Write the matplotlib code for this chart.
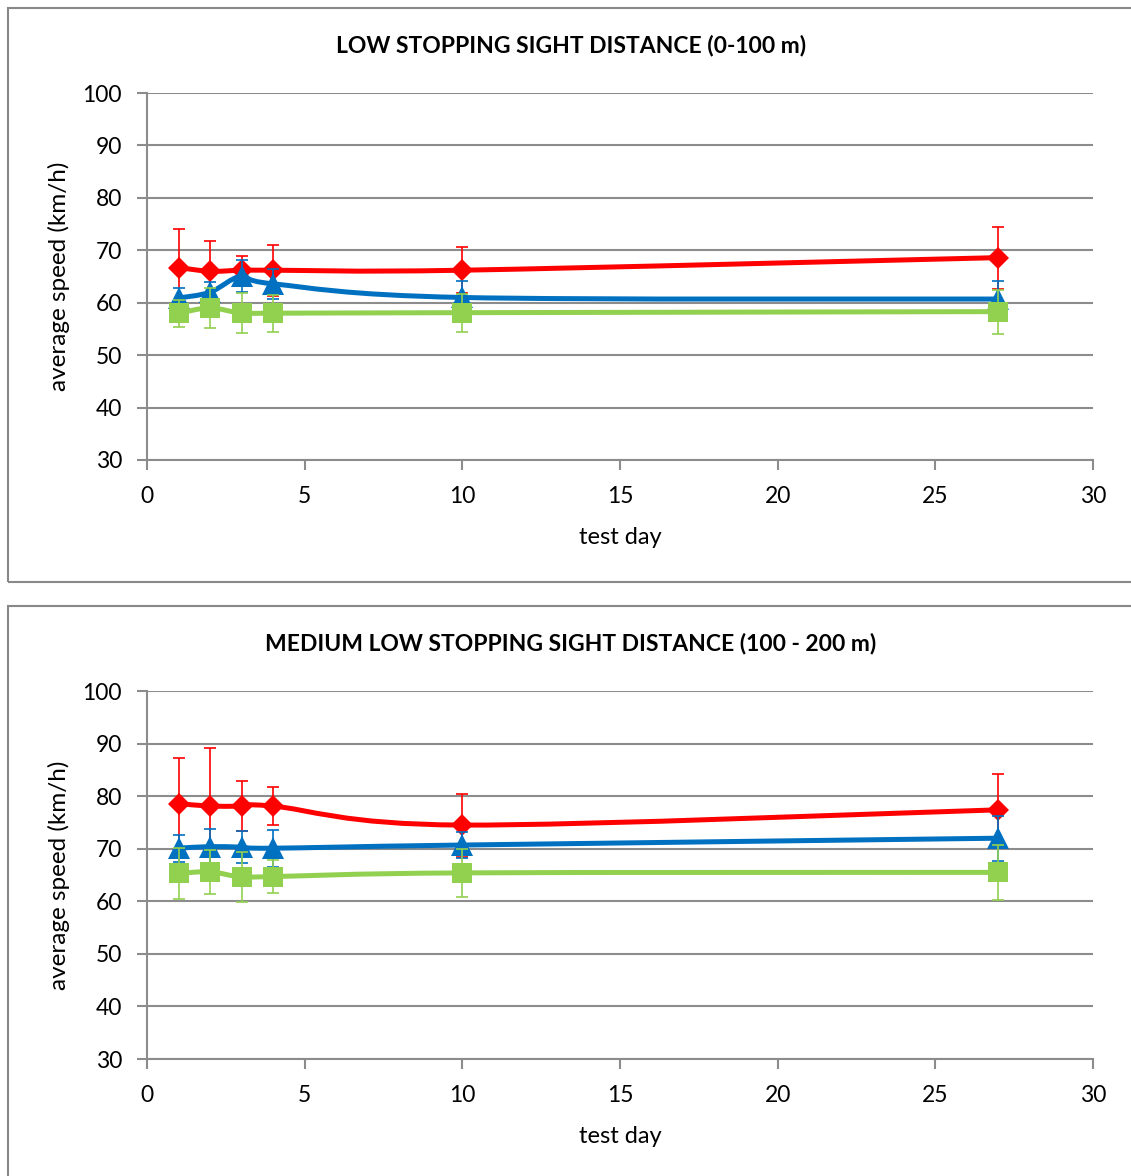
import numpy as np
import matplotlib.pyplot as plt
from matplotlib.patches import Rectangle, PathPatch
from matplotlib.path import Path

plt.rcParams['font.family'] = ['Lato', 'DejaVu Sans']

# data
days = [1, 2, 3, 4, 10, 27]

low_red = [66.7, 66.0, 66.2, 66.2, 66.2, 68.6]
low_red_err = [7.4, 5.8, 2.7, 4.9, 4.4, 5.9]
low_blue = [60.9, 62.0, 65.1, 63.6, 61.0, 60.7]
low_blue_err = [2.0, 2.0, 3.1, 2.9, 3.2, 3.5]
low_green = [58.0, 59.0, 58.0, 58.0, 58.1, 58.3]
low_green_err = [2.6, 3.8, 3.8, 3.5, 3.6, 4.2]

med_red = [78.6, 78.1, 78.1, 78.1, 74.5, 77.4]
med_red_err = [8.6, 11.0, 4.7, 3.6, 6.0, 6.9]
med_blue = [70.1, 70.4, 70.3, 70.1, 70.7, 72.0]
med_blue_err = [2.6, 3.4, 3.0, 3.5, 2.5, 4.3]
med_green = [65.3, 65.6, 64.6, 64.7, 65.4, 65.5]
med_green_err = [4.9, 4.2, 4.7, 3.1, 4.6, 5.3]

titles = ["LOW STOPPING SIGHT DISTANCE (0-100 m)",
          "MEDIUM LOW STOPPING SIGHT DISTANCE (100 - 200 m)"]

RED, BLUE, GREEN = "#FF0000", "#0070C0", "#92D050"
GRID = "#8C8C8C"

W, H = 1131, 1176


def smooth_path(x, y):
    # Excel-style smoothed line as cubic Bezier segments
    x = np.asarray(x, float)
    y = np.asarray(y, float)
    n = len(x)
    verts = [(x[0], y[0])]
    codes = [Path.MOVETO]
    for i in range(n - 1):
        p0 = i - 1 if i > 0 else i
        p3 = i + 2 if i + 2 < n else i + 1
        c1 = (x[i] + (x[i + 1] - x[p0]) / 6, y[i] + (y[i + 1] - y[p0]) / 6)
        c2 = (x[i + 1] - (x[p3] - x[i]) / 6, y[i + 1] - (y[p3] - y[i]) / 6)
        verts += [c1, c2, (x[i + 1], y[i + 1])]
        codes += [Path.CURVE4] * 3
    return Path(verts, codes)


def draw_series(ax, vals, errs, color, marker, ms, z):
    ax.errorbar(days, vals, yerr=errs, fmt="none", ecolor=color,
                elinewidth=1.2, capsize=4.5, capthick=1.2, zorder=z)
    ax.add_patch(PathPatch(smooth_path(days, vals), fill=False,
                           edgecolor=color, linewidth=3.6,
                           capstyle="round", joinstyle="round", zorder=z + 0.1))
    ax.plot(days, vals, linestyle="none", marker=marker, markersize=ms,
            color=color, markeredgewidth=0, zorder=z + 0.2)


fig = plt.figure(figsize=(W / 100, H / 100), dpi=100)

# panel frames
for top, bot in [(7.5, 582), (606, 1190)]:
    fig.patches.append(Rectangle((7.5 / W, 1 - bot / H), 1.2, (bot - top) / H,
                                 transform=fig.transFigure, fill=False,
                                 edgecolor="#888888", linewidth=1.5))

panels = [
    (93, 460, 45, (low_red, low_red_err), (low_blue, low_blue_err), (low_green, low_green_err)),
    (691, 1059, 643, (med_red, med_red_err), (med_blue, med_blue_err), (med_green, med_green_err)),
]

for idx, (ytop, ybot, ytitle, red, blue, green) in enumerate(panels):
    ax = fig.add_axes([147 / W, 1 - ybot / H, (1093 - 147) / W, (ybot - ytop) / H])
    ax.set_xlim(0, 30)
    ax.set_ylim(30, 100)
    ax.set_xticks(np.arange(0, 31, 5))
    ax.set_yticks(np.arange(30, 101, 10))
    ax.grid(True, axis="y", color=GRID, linewidth=1.5)
    ax.set_axisbelow(True)
    for s in ["top", "right"]:
        ax.spines[s].set_visible(False)
    for s in ["left", "bottom"]:
        ax.spines[s].set_color(GRID)
        ax.spines[s].set_linewidth(1.5)
    ax.tick_params(axis="both", direction="out", length=7, width=1.5,
                   color=GRID, labelsize=16.5)
    ax.tick_params(axis="x", pad=12)
    ax.tick_params(axis="y", pad=11)
    ax.set_xlabel("test day", fontsize=17, labelpad=14)
    ax.set_ylabel("average speed (km/h)", fontsize=17.5, labelpad=9)

    draw_series(ax, red[0], red[1], RED, "D", 11.5, 3)
    draw_series(ax, blue[0], blue[1], BLUE, "^", 16.5, 4)
    draw_series(ax, green[0], green[1], GREEN, "s", 14.5, 5)

    fig.text(571 / W, 1 - ytitle / H, titles[idx], ha="center", va="center",
             fontsize=16.5, fontweight="bold")

fig.savefig("out.png", dpi=100)
